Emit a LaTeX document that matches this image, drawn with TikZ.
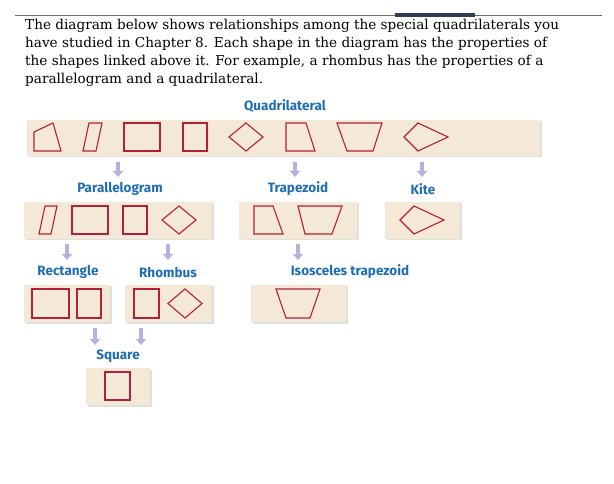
\documentclass[tikz,border=0pt]{standalone}
\usepackage{fontspec}
\setmainfont{DejaVu Serif}
\newfontfamily\labelfont{Fira Sans}
\usetikzlibrary{arrows.meta, positioning, shadows}
\definecolor{boxfill}{HTML}{F3E9D6}
\definecolor{shapered}{HTML}{B3203A}
\definecolor{labelblue}{HTML}{1F6DB3}
\definecolor{arrowlilac}{HTML}{B9B1DD}
\definecolor{rulegray}{HTML}{6E6E6E}
\definecolor{tabblue}{HTML}{2E3E57}
\tikzset{
  shapebox/.style={rectangle, fill=boxfill, inner sep=0pt, drop shadow={shadow xshift=1.5pt, shadow yshift=-1.5pt, opacity=0.25}},
  shapeline/.style={draw=shapered, line width=1.1pt, line join=miter},
  boxlabel/.style={font=\labelfont\bfseries\fontsize{13.5}{15}\selectfont, text=labelblue, inner sep=0pt},
  downarrow/.style={draw=arrowlilac, line width=3.5pt, -{Triangle[width=10pt,length=6pt]}},
}
\begin{document}
\begin{tikzpicture}[x=1pt, y=-1pt]
  \useasboundingbox (0,0) rectangle (614,484);
  % header rule and text
  \draw[rulegray, line width=1pt] (15,16) -- (602,16);
  \fill[tabblue] (395,13) rectangle (475,17.5);
  \node[anchor=north west, inner sep=0pt, align=left, font=\fontsize{13.6}{18}\selectfont] (intro) at (25,19)
    {The diagram below shows relationships among the special quadrilaterals you\\
     have studied in Chapter 8. Each shape in the diagram has the properties of\\
     the shapes linked above it. For example, a rhombus has the properties of a\\
     parallelogram and a quadrilateral.};
  % labels
  \node[boxlabel] (quad) at (285,106) {Quadrilateral};
  \node[boxlabel] (para) at (120,189) {Parallelogram};
  \node[boxlabel] (trap) at (298,189) {Trapezoid};
  \node[boxlabel] (kite) at (423,189) {Kite};
  \node[boxlabel] (rect) at (68,272) {Rectangle};
  \node[boxlabel] (rhom) at (168,272) {Rhombus};
  \node[boxlabel] (isos) at (350,272) {Isosceles trapezoid};
  \node[boxlabel] (squa) at (118,356) {Square};
  % boxes
  \node[shapebox, minimum width=513pt, minimum height=36pt] (quadbox) at (283.5,138) {};
  \node[shapebox, minimum width=188pt, minimum height=37pt] (parabox) at (118,220.5) {};
  \node[shapebox, minimum width=118pt, minimum height=37pt] (trapbox) at (298,220.5) {};
  \node[shapebox, minimum width=75pt, minimum height=37pt] (kitebox) at (422.5,220.5) {};
  \node[shapebox, minimum width=86pt, minimum height=37pt] (rectbox) at (67,303.5) {};
  \node[shapebox, minimum width=87pt, minimum height=37pt] (rhombox) at (168.5,303.5) {};
  \node[shapebox, minimum width=95pt, minimum height=37pt] (isosbox) at (298.5,303.5) {};
  \node[shapebox, minimum width=64pt, minimum height=37pt] (squabox) at (118,386.5) {};
  % arrows
  \draw[downarrow] (118,162) -- (118,177);
  \draw[downarrow] (295,162) -- (295,177);
  \draw[downarrow] (422,162) -- (422,177);
  \draw[downarrow] (67,244) -- (67,260);
  \draw[downarrow] (168,244) -- (168,260);
  \draw[downarrow] (298,244) -- (298,260);
  \draw[downarrow] (95,328) -- (95,345);
  \draw[downarrow] (141,328) -- (141,345);
  % shapes, quadrilateral row
  \draw[shapeline] (34,132) -- (53,123) -- (61,151) -- (34,151) -- cycle;
  \draw[shapeline] (83,151) -- (89,123) -- (102,123) -- (96,151) -- cycle;
  \draw[shapeline] (124,123) rectangle (160,151);
  \draw[shapeline] (183,123) rectangle (207,151);
  \draw[shapeline] (229,137) -- (246,123) -- (263,137) -- (246,151) -- cycle;
  \draw[shapeline] (286,123) -- (306,123) -- (315,151) -- (286,151) -- cycle;
  \draw[shapeline] (337,123) -- (382,123) -- (373,151) -- (347,151) -- cycle;
  \draw[shapeline] (404,137) -- (418,123) -- (448,137) -- (418,151) -- cycle;
  % parallelogram, trapezoid, kite
  \draw[shapeline] (39,234) -- (45,206) -- (57,206) -- (51,234) -- cycle;
  \draw[shapeline] (72,206) rectangle (108,234);
  \draw[shapeline] (123,206) rectangle (147,234);
  \draw[shapeline] (162,220) -- (179,206) -- (196,220) -- (179,234) -- cycle;
  \draw[shapeline] (254,206) -- (273,206) -- (283,234) -- (254,234) -- cycle;
  \draw[shapeline] (298,206) -- (342,206) -- (332,234) -- (305,234) -- cycle;
  \draw[shapeline] (400,220) -- (414,206) -- (444,220) -- (414,234) -- cycle;
  % rectangle, rhombus, isosceles trapezoid
  \draw[shapeline] (32,289) rectangle (69,318);
  \draw[shapeline] (77,289) rectangle (101,318);
  \draw[shapeline] (134,289) rectangle (159,318);
  \draw[shapeline] (168,303.5) -- (185,289) -- (202,303.5) -- (185,318) -- cycle;
  \draw[shapeline] (276,289) -- (320,289) -- (310,318) -- (286,318) -- cycle;
  % square
  \draw[shapeline] (105,372) rectangle (130,400);
\end{tikzpicture}
\end{document}
